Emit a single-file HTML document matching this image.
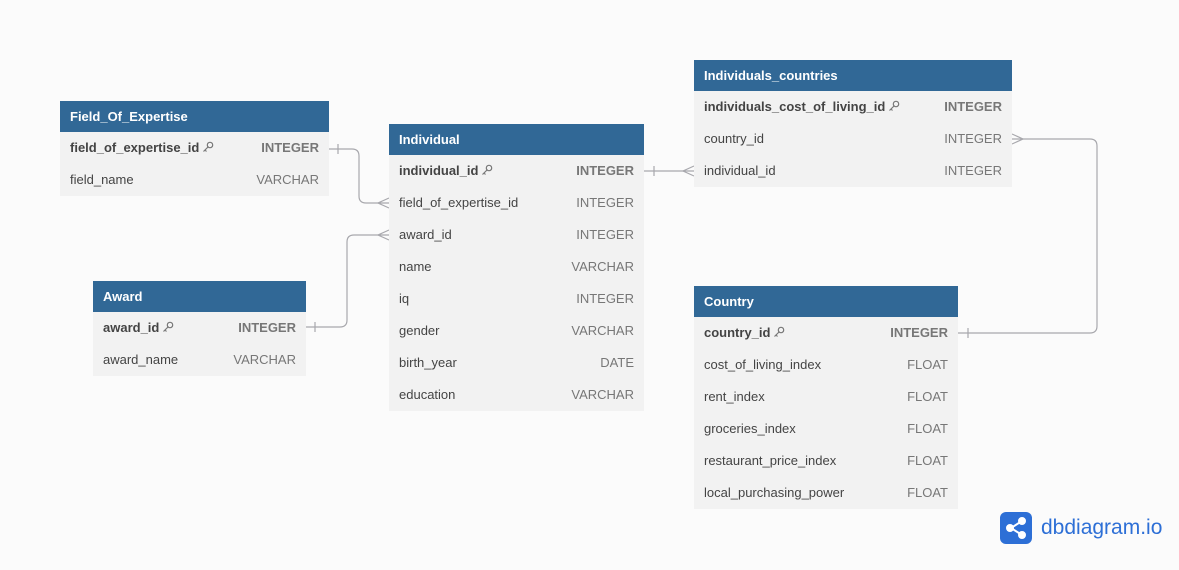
<!DOCTYPE html>
<html><head><meta charset="utf-8"><style>
body{margin:0;width:1179px;height:570px;background:#fbfbfb;font-family:"Liberation Sans",sans-serif;position:relative;overflow:hidden}
.t{position:absolute;background:#f2f2f2}
.h{background:#316896;color:#fff;font-weight:bold;font-size:13px;height:31px;line-height:31px;padding-left:10px}
.r{height:32px;line-height:32px;font-size:13px;color:#444;padding:0 10px;display:flex;justify-content:space-between}
.r span:last-child{color:#777}
.r.k{font-weight:bold;color:#444}
.key{display:inline-block;width:12px;height:12px;vertical-align:-1px;margin-left:3px}
svg.c{position:absolute;left:0;top:0}
</style></head><body>
<svg class="c" width="1179" height="570" fill="none" stroke="#a8a8ad" stroke-width="1.2">
<path d="M329 149 H352 Q359 149 359 156 V196 Q359 203 366 203 H389"/>
<path d="M338 144 V154"/>
<path d="M389 198 L378 203 L389 208"/>
<path d="M306 327 H340 Q347 327 347 320 V242 Q347 235 354 235 H389"/>
<path d="M315 322 V332"/>
<path d="M389 230 L378 235 L389 240"/>
<path d="M644 171 H694"/>
<path d="M654 166 V176"/>
<path d="M694 166 L683 171 L694 176"/>
<path d="M1012 139 H1090 Q1097 139 1097 146 V326 Q1097 333 1090 333 H958"/>
<path d="M1012 134 L1023 139 L1012 144"/>
<path d="M968 328 V338"/>
</svg>
<div class="t" style="left:60px;top:101px;width:269px">
<div class="h">Field_Of_Expertise</div>
<div class="r k"><span>field_of_expertise_id<svg class="key" viewBox="0 0 12 12" fill="none" stroke="#777" stroke-width="1.2"><circle cx="8" cy="4" r="2.7"/><path d="M6 6 L1.5 10.5 M3 9 L4.5 10.5"/></svg></span><span>INTEGER</span></div>
<div class="r"><span>field_name</span><span>VARCHAR</span></div>
</div>
<div class="t" style="left:93px;top:281px;width:213px">
<div class="h">Award</div>
<div class="r k"><span>award_id<svg class="key" viewBox="0 0 12 12" fill="none" stroke="#777" stroke-width="1.2"><circle cx="8" cy="4" r="2.7"/><path d="M6 6 L1.5 10.5 M3 9 L4.5 10.5"/></svg></span><span>INTEGER</span></div>
<div class="r"><span>award_name</span><span>VARCHAR</span></div>
</div>
<div class="t" style="left:389px;top:124px;width:255px">
<div class="h">Individual</div>
<div class="r k"><span>individual_id<svg class="key" viewBox="0 0 12 12" fill="none" stroke="#777" stroke-width="1.2"><circle cx="8" cy="4" r="2.7"/><path d="M6 6 L1.5 10.5 M3 9 L4.5 10.5"/></svg></span><span>INTEGER</span></div>
<div class="r"><span>field_of_expertise_id</span><span>INTEGER</span></div>
<div class="r"><span>award_id</span><span>INTEGER</span></div>
<div class="r"><span>name</span><span>VARCHAR</span></div>
<div class="r"><span>iq</span><span>INTEGER</span></div>
<div class="r"><span>gender</span><span>VARCHAR</span></div>
<div class="r"><span>birth_year</span><span>DATE</span></div>
<div class="r"><span>education</span><span>VARCHAR</span></div>
</div>
<div class="t" style="left:694px;top:60px;width:318px">
<div class="h">Individuals_countries</div>
<div class="r k"><span>individuals_cost_of_living_id<svg class="key" viewBox="0 0 12 12" fill="none" stroke="#777" stroke-width="1.2"><circle cx="8" cy="4" r="2.7"/><path d="M6 6 L1.5 10.5 M3 9 L4.5 10.5"/></svg></span><span>INTEGER</span></div>
<div class="r"><span>country_id</span><span>INTEGER</span></div>
<div class="r"><span>individual_id</span><span>INTEGER</span></div>
</div>
<div class="t" style="left:694px;top:286px;width:264px">
<div class="h">Country</div>
<div class="r k"><span>country_id<svg class="key" viewBox="0 0 12 12" fill="none" stroke="#777" stroke-width="1.2"><circle cx="8" cy="4" r="2.7"/><path d="M6 6 L1.5 10.5 M3 9 L4.5 10.5"/></svg></span><span>INTEGER</span></div>
<div class="r"><span>cost_of_living_index</span><span>FLOAT</span></div>
<div class="r"><span>rent_index</span><span>FLOAT</span></div>
<div class="r"><span>groceries_index</span><span>FLOAT</span></div>
<div class="r"><span>restaurant_price_index</span><span>FLOAT</span></div>
<div class="r"><span>local_purchasing_power</span><span>FLOAT</span></div>
</div>
<div style="position:absolute;left:1000px;top:512px;width:32px;height:32px;border-radius:6px;background:#2d6fd6">
<svg width="32" height="32" stroke="#fff" stroke-width="2" fill="#fff"><path d="M22 9 L11 16 L22 23" fill="none"/><circle cx="22" cy="9" r="3"/><circle cx="10" cy="16" r="3"/><circle cx="22" cy="23" r="3"/></svg>
</div>
<div style="position:absolute;left:1041px;top:514px;font-size:21px;color:#2d6fd6;line-height:28px">dbdiagram.io</div>
</body></html>
